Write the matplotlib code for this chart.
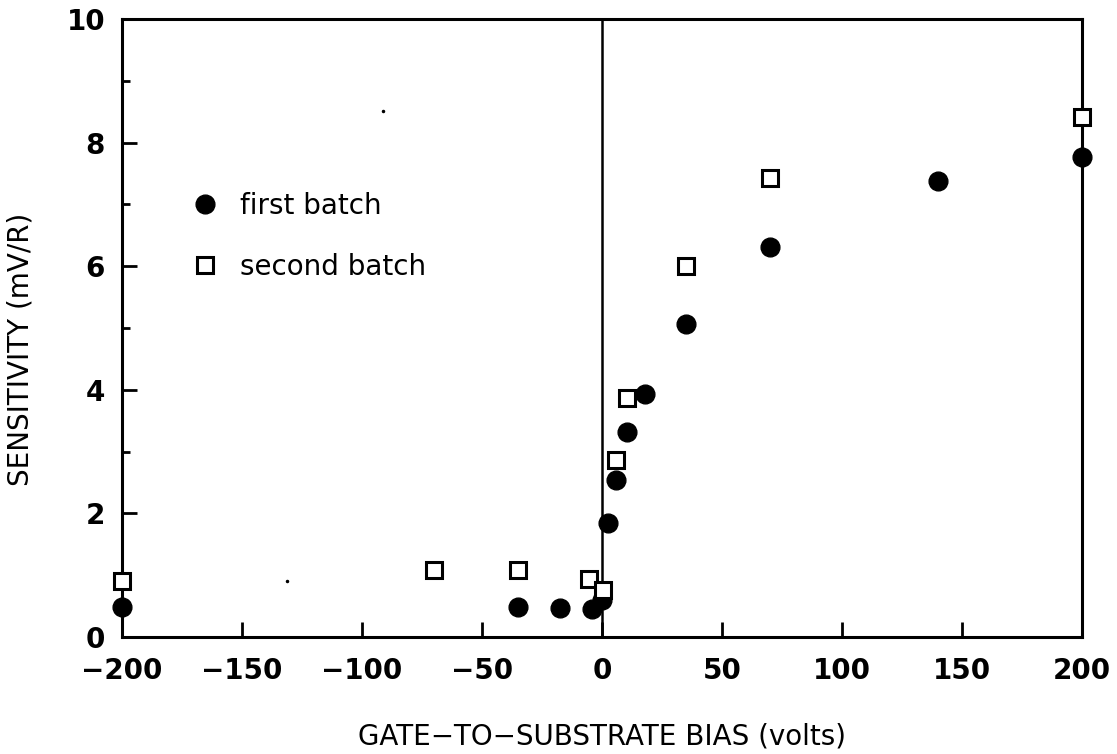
import matplotlib.pyplot as plt
from matplotlib.ticker import MultipleLocator

# gate-to-substrate bias (volts) and sensitivity (mV/R)
bias_first = [-200, -35, -17.5, -4, 0, 2.5, 6, 10.5, 18, 35, 70, 140, 200]
sens_first = [0.49, 0.49, 0.47, 0.45, 0.6, 1.84, 2.54, 3.32, 3.93, 5.06, 6.31, 7.38, 7.77]

bias_second = [-200, -70, -35, -5.5, 0.5, 6, 10.5, 35, 70, 200]
sens_second = [0.91, 1.08, 1.08, 0.94, 0.76, 2.86, 3.87, 6.0, 7.43, 8.41]

# stray specks on the scanned original
speck_x = [-91, -131]
speck_y = [8.51, 0.91]

xticks = [-200, -150, -100, -50, 0, 50, 100, 150, 200]
xtick_labels = ["\u2212200", "\u2212150", "\u2212100", "\u221250", "0", "50", "100", "150", "200"]

fig = plt.figure(figsize=(11.17, 7.54), dpi=100)
ax = fig.add_axes([0.109, 0.155, 0.8597, 0.82])

ax.axvline(0, color="black", lw=1.8, zorder=1)
ax.plot(bias_first, sens_first, "o", color="black", ms=13.5, ls="none",
        label="first batch", clip_on=False, zorder=3)
ax.plot(bias_second, sens_second, "s", mfc="white", mec="black", mew=2.2,
        ms=12, ls="none", label="second batch", clip_on=False, zorder=4)
ax.plot(speck_x, speck_y, ".", color="black", ms=3, ls="none")

ax.set_xlim(-200, 200)
ax.set_ylim(0, 10)
ax.set_xticks(xticks)
ax.set_xticklabels(xtick_labels)
ax.yaxis.set_major_locator(MultipleLocator(2))
ax.yaxis.set_minor_locator(MultipleLocator(1))
ax.tick_params(which="major", direction="in", length=11, width=2, labelsize=20, pad=14)
ax.tick_params(which="minor", direction="in", length=6, width=2)
ax.tick_params(axis="y", pad=12)
for lab in ax.get_xticklabels() + ax.get_yticklabels():
    lab.set_fontweight("semibold")
for s in ax.spines.values():
    s.set_linewidth(2.2)

ax.set_xlabel("GATE\u2212TO\u2212SUBSTRATE BIAS (volts)", fontsize=20)
ax.xaxis.set_label_coords(0.5, -0.138)
ax.set_ylabel("SENSITIVITY (mV/R)", fontsize=20)
ax.yaxis.set_label_coords(-0.091, 0.465)

ax.legend(loc="center left", bbox_to_anchor=(0.072, 0.648), frameon=False,
          fontsize=20, labelspacing=1.2, handletextpad=0.75, handlelength=1.0,
          borderpad=0, borderaxespad=0)

fig.savefig("out.png", dpi=100)
